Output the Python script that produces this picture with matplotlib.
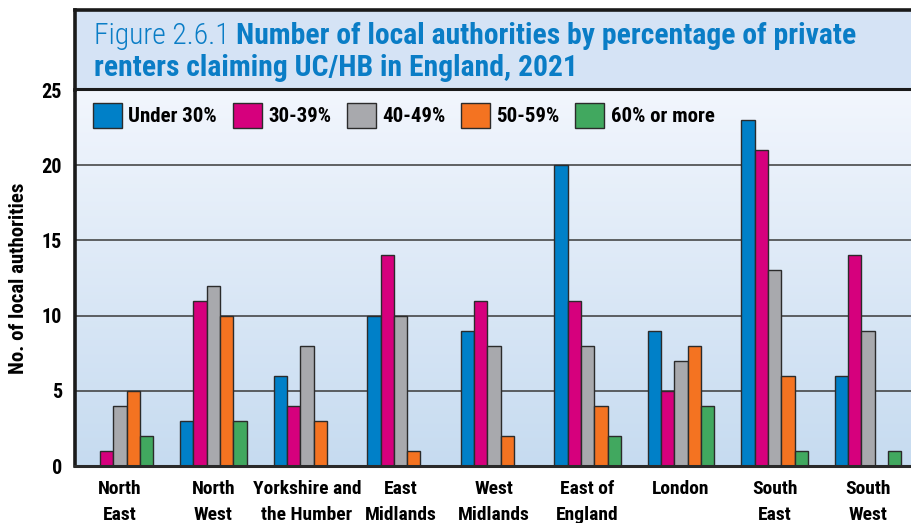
import numpy as np
import matplotlib
matplotlib.use("Agg")
import matplotlib.pyplot as plt
from matplotlib.patches import Rectangle
from matplotlib.lines import Line2D
from matplotlib import font_manager

regions = ["North\nEast", "North\nWest", "Yorkshire and\nthe Humber", "East\nMidlands",
           "West\nMidlands", "East of\nEngland", "London", "South\nEast", "South\nWest"]
bands = ["Under 30%", "30-39%", "40-49%", "50-59%", "60% or more"]
under_30 = [0, 3, 6, 10, 9, 20, 9, 23, 6]
pct_30_39 = [1, 11, 4, 14, 11, 11, 5, 21, 14]
pct_40_49 = [4, 12, 8, 10, 8, 8, 7, 13, 9]
pct_50_59 = [5, 10, 3, 1, 2, 4, 8, 6, 0]
pct_60_plus = [2, 3, 0, 0, 0, 2, 4, 1, 1]
series = [under_30, pct_30_39, pct_40_49, pct_50_59, pct_60_plus]
colors = ["#0080c8", "#d6007d", "#a8a9ad", "#f47321", "#41a85f"]
yticks = [0, 5, 10, 15, 20, 25]

names = {f.name for f in font_manager.fontManager.ttflist}
FONT = "Liberation Sans"
for cand in ["Roboto Condensed", "Open Sans Condensed", "Liberation Sans Narrow",
             "Noto Sans Condensed", "DejaVu Sans Condensed"]:
    if cand in names:
        FONT = cand
        break
plt.rcParams["font.family"] = [FONT, "DejaVu Sans"]

W, H = 912, 523
fig = plt.figure(figsize=(W / 100, H / 100), dpi=100)
fig.patch.set_facecolor("white")


def fx(px):
    return px / W


def fy(py):
    return 1 - py / H


left, right, top, bottom = 75, 912, 90, 466
ax = fig.add_axes([fx(left), fy(bottom), fx(right) - fx(left), fy(top) - fy(bottom)])

# gradient background of the plot area
grad = np.linspace(0, 1, 256).reshape(-1, 1)
c_top = np.array([0xf2, 0xf6, 0xfd]) / 255
c_bot = np.array([0xc6, 0xdb, 0xf0]) / 255
img = c_top[None, None, :] * (1 - grad[:, :, None]) + c_bot[None, None, :] * grad[:, :, None]
ax.imshow(img, extent=[0, 1, 0, 1], transform=ax.transAxes, aspect="auto", zorder=0)

x = np.arange(len(regions))
bw = 0.1425
for k, (vals, col, lab) in enumerate(zip(series, colors, bands)):
    ax.bar(x + (k - 2) * bw, vals, width=bw, color=col, edgecolor="#2b2b2b",
           linewidth=1.0, label=lab, zorder=3)

ax.set_xlim(-0.481, 8.47)
ax.set_ylim(0, 25)
ax.set_yticks(yticks)
ax.set_yticklabels([str(t) for t in yticks], fontsize=14.5, fontweight="bold")
ax.tick_params(axis="y", length=0, pad=9.5)
ax.set_xticks(x)
ax.set_xticklabels(regions, fontsize=14, fontweight="bold", linespacing=1.55)
ax.tick_params(axis="x", length=0, pad=10)
for t in yticks[1:-1]:
    ax.axhline(t, color="#3a3a3a", lw=1.1, zorder=1)

for s in ["top", "right"]:
    ax.spines[s].set_visible(False)
ax.spines["left"].set_linewidth(2.6)
ax.spines["left"].set_color("#1a1a1a")
ax.spines["bottom"].set_linewidth(2.2)
ax.spines["bottom"].set_color("#2a2a2a")
ax.spines["bottom"].set_zorder(4)

ax.set_ylabel("No. of local authorities", fontsize=15, fontweight="bold")
ax.yaxis.set_label_coords((28 - left) / (right - left), 0.5)

leg_fs = 15
ax.legend(loc="upper left", ncol=5, frameon=False,
          prop={"weight": "bold", "size": leg_fs},
          handlelength=1.4, handleheight=1.45, handletextpad=0.3,
          columnspacing=0.75, borderpad=0, borderaxespad=0,
          bbox_to_anchor=((93 - left) / (right - left), 1 - (103 - top) / (bottom - top)))

# title panel
fig.patches.append(Rectangle((fx(left), fy(top)), fx(right) - fx(left), fy(10) - fy(top),
                             transform=fig.transFigure, facecolor="#d5e3f5",
                             edgecolor="none", zorder=0))
fig.lines.append(Line2D([fx(left), fx(right)], [fy(10), fy(10)], transform=fig.transFigure,
                        color="#1a1a1a", lw=2.6))
fig.lines.append(Line2D([fx(left), fx(right)], [fy(89), fy(89)], transform=fig.transFigure,
                        color="#1a1a1a", lw=2.2))
fig.lines.append(Line2D([fx(left), fx(left)], [fy(10), fy(top)], transform=fig.transFigure,
                        color="#1a1a1a", lw=2.6))

tcol = "#0a7dc6"
renderer = fig.canvas.get_renderer()
tsize = 18
x0 = 94
t1 = fig.text(fx(x0), fy(44), "Figure 2.6.1 ", fontsize=tsize, color=tcol,
              va="baseline", ha="left", fontweight="light")
w1 = t1.get_window_extent(renderer).width
t2 = fig.text(fx(x0) + w1 / W, fy(44), "Number of local authorities by percentage of private",
              fontsize=tsize, color=tcol, fontweight="bold", va="baseline", ha="left")
t3 = fig.text(fx(x0), fy(76), "renters claiming UC/HB in England, 2021", fontsize=tsize,
              color=tcol, fontweight="bold", va="baseline", ha="left")

# size the heading so its first line spans the panel width
total = w1 + t2.get_window_extent(renderer).width
avail = 857 - x0
s = tsize * avail / total
for t in (t1, t2, t3):
    t.set_fontsize(s)
w1 = t1.get_window_extent(renderer).width
t2.set_x(fx(x0) + w1 / W)

fig.savefig("out.png", dpi=100)
